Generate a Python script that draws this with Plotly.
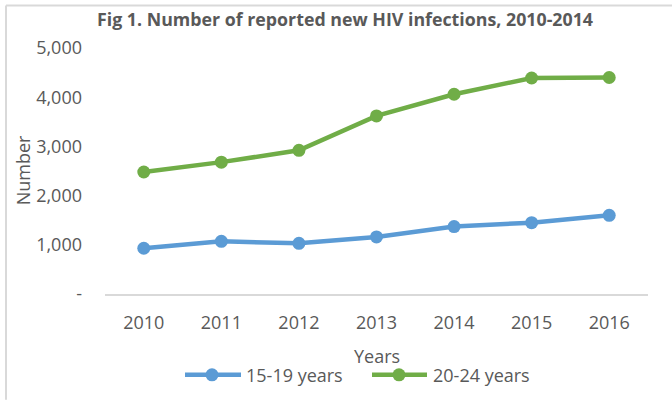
import plotly.graph_objects as go

# Data
years = ["2010", "2011", "2012", "2013", "2014", "2015", "2016"]
age_15_19 = [930, 1070, 1030, 1160, 1370, 1450, 1600]
age_20_24 = [2480, 2680, 2920, 3620, 4060, 4390, 4400]
series_names = ["15-19 years", "20-24 years"]
y_tickvals = [0, 1000, 2000, 3000, 4000, 5000]
y_ticktext = ["-", "1,000", "2,000", "3,000", "4,000", "5,000"]

BLUE = "#5B9BD5"
GREEN = "#70AD47"
TEXT = "#595959"
FONT = "Open Sans"

W, H = 672, 400
L, R, T, B = 105, 24, 47.5, 106
pw, ph = W - L - R, H - T - B


def px_x(x):
    return (x - L) / pw


def px_y(y):
    return (H - B - y) / ph


fig = go.Figure()
for vals, name, color in [(age_15_19, series_names[0], BLUE), (age_20_24, series_names[1], GREEN)]:
    fig.add_trace(go.Scatter(
        x=years, y=vals, name=name, mode="lines+markers",
        line=dict(color=color, width=4.5),
        marker=dict(color=color, size=13),
        showlegend=False,
    ))

shapes = [
    # chart area border (left and top)
    dict(type="line", xref="paper", yref="paper", x0=px_x(6), x1=px_x(6),
         y0=px_y(5), y1=px_y(400), line=dict(color="#D9D9D9", width=2)),
    dict(type="line", xref="paper", yref="paper", x0=px_x(6), x1=px_x(672),
         y0=px_y(5), y1=px_y(5), line=dict(color="#D9D9D9", width=2)),
]

annotations = [
    dict(text="Number", xref="paper", yref="paper", x=px_x(23), y=px_y(170),
         xanchor="center", yanchor="middle",
         textangle=-90, showarrow=False, font=dict(family=FONT, size=18, color=TEXT)),
    dict(text="Years", xref="paper", yref="paper", x=px_x(377), y=px_y(356),
         xanchor="center", yanchor="middle",
         showarrow=False, font=dict(family=FONT, size=18, color=TEXT)),
]

# legend drawn as line + dot + label
legend_items = [(series_names[0], BLUE, 185, 241, 212, 244),
                (series_names[1], GREEN, 372, 427, 399, 431)]
ly = 375
for name, color, x0, x1, xm, xt in legend_items:
    shapes.append(dict(type="line", xref="paper", yref="paper",
                       x0=px_x(x0), x1=px_x(x1), y0=px_y(ly), y1=px_y(ly),
                       line=dict(color=color, width=4.5)))
    shapes.append(dict(type="circle", xref="paper", yref="paper",
                       x0=px_x(xm - 6.5), x1=px_x(xm + 6.5),
                       y0=px_y(ly + 6.5), y1=px_y(ly - 6.5),
                       fillcolor=color, line=dict(width=0)))
    annotations.append(dict(text=name, xref="paper", yref="paper",
                            x=px_x(xt), y=px_y(ly), xanchor="left", yanchor="middle",
                            showarrow=False, font=dict(family=FONT, size=18, color=TEXT)))

fig.update_layout(
    width=W, height=H,
    margin=dict(l=L, r=R, t=T, b=B),
    paper_bgcolor="white", plot_bgcolor="white",
    title=dict(text="<b>Fig 1. Number of reported new HIV infections, 2010-2014</b>",
               x=345 / W, y=1 - 20 / H, xanchor="center", yanchor="middle",
               font=dict(family=FONT, size=17.8, color=TEXT)),
    xaxis=dict(type="category", range=[-0.5, 6.5], showgrid=False, zeroline=False,
               showline=True, linecolor="#D9D9D9", linewidth=1.5,
               ticks="", ticklabelstandoff=12,
               tickfont=dict(family=FONT, size=18, color=TEXT)),
    yaxis=dict(range=[0, 5000], tickvals=y_tickvals, ticktext=y_ticktext,
               showgrid=False, zeroline=False, showline=False, ticks="",
               ticklabelstandoff=22,
               tickfont=dict(family=FONT, size=18, color=TEXT)),
    shapes=shapes,
    annotations=annotations,
)

fig.write_html("out.html")
